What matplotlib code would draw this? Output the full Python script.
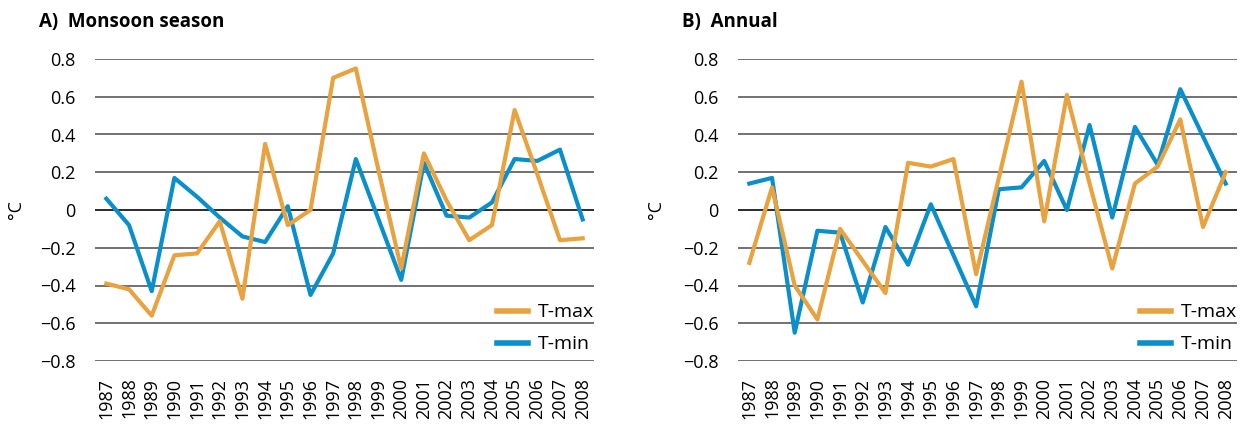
import matplotlib
matplotlib.use("Agg")
import matplotlib.pyplot as plt

plt.rcParams['font.family'] = ['Open Sans', 'DejaVu Sans']

years = [str(y) for y in range(1987, 2009)]

monsoon_tmax = [-0.39, -0.42, -0.56, -0.24, -0.23, -0.06, -0.47, 0.35, -0.08, 0.00, 0.70,
                0.75, 0.21, -0.31, 0.30, 0.05, -0.16, -0.08, 0.53, 0.19, -0.16, -0.15]
monsoon_tmin = [0.06, -0.08, -0.43, 0.17, 0.07, -0.04, -0.14, -0.17, 0.02, -0.45, -0.23,
                0.27, -0.05, -0.37, 0.25, -0.03, -0.04, 0.04, 0.27, 0.26, 0.32, -0.05]

annual_tmax = [-0.28, 0.12, -0.40, -0.58, -0.10, -0.27, -0.44, 0.25, 0.23, 0.27, -0.34,
               0.17, 0.68, -0.06, 0.61, 0.14, -0.31, 0.14, 0.23, 0.48, -0.09, 0.20]
annual_tmin = [0.14, 0.17, -0.65, -0.11, -0.12, -0.49, -0.09, -0.29, 0.03, -0.24, -0.51,
               0.11, 0.12, 0.26, 0.00, 0.45, -0.04, 0.44, 0.24, 0.64, 0.39, 0.14]

yticks = [-0.8, -0.6, -0.4, -0.2, 0, 0.2, 0.4, 0.6, 0.8]
ytick_labels = ['\u22120.8', '\u22120.6', '\u22120.4', '\u22120.2', '0', '0.2', '0.4', '0.6', '0.8']

panels = [
    ("A)  Monsoon season", monsoon_tmax, monsoon_tmin),
    ("B)  Annual", annual_tmax, annual_tmin),
]

ORANGE = '#E8A23F'
BLUE = '#0A8FCB'

W, H = 1241, 424
fig = plt.figure(figsize=(W / 100, H / 100), dpi=100)
lefts = [95, 738]
title_x = [39, 682]
ylabel_x = [16, 656]
ax_w = 499
ax_top, ax_bot = 59, 361

for i, (title, tmax, tmin) in enumerate(panels):
    ax = fig.add_axes([lefts[i] / W, 1 - ax_bot / H, ax_w / W, (ax_bot - ax_top) / H])
    x = list(range(len(years)))
    for yv in yticks:
        ax.axhline(yv, color='#1a1a1a' if yv == 0 else '#666666', lw=1.3, zorder=1)
    ax.plot(x, tmax, color=ORANGE, lw=3.0, label='T-max', zorder=3)
    ax.plot(x, tmin, color=BLUE, lw=3.0, label='T-min', zorder=2)
    ax.set_xlim(-0.5, len(years) - 0.5)
    ax.set_ylim(-0.8, 0.8)
    ax.set_xticks(x)
    ax.set_xticklabels(years, rotation=90, fontsize=13)
    ax.set_yticks(yticks)
    ax.set_yticklabels(ytick_labels, fontsize=13)
    ax.tick_params(axis='both', length=0)
    ax.tick_params(axis='x', pad=12)
    ax.tick_params(axis='y', pad=14)
    for s in ax.spines.values():
        s.set_visible(False)
    fig.text(ylabel_x[i] / W, 1 - (ax_top + ax_bot) / 2 / H, '\u00b0C', rotation=90,
             fontsize=13, ha='center', va='center')
    fig.text(title_x[i] / W, 1 - 22 / H, title, fontsize=13.5, fontweight='bold',
             ha='left', va='center')
    leg = ax.legend(loc='lower right', frameon=False, fontsize=14, handlelength=1.6,
                    labelspacing=0.72, borderaxespad=0.0, borderpad=0.0,
                    handletextpad=0.5, bbox_to_anchor=(1.0, 0.025))
    for l in leg.get_lines():
        l.set_linewidth(4)

fig.savefig('out.png', dpi=100)
